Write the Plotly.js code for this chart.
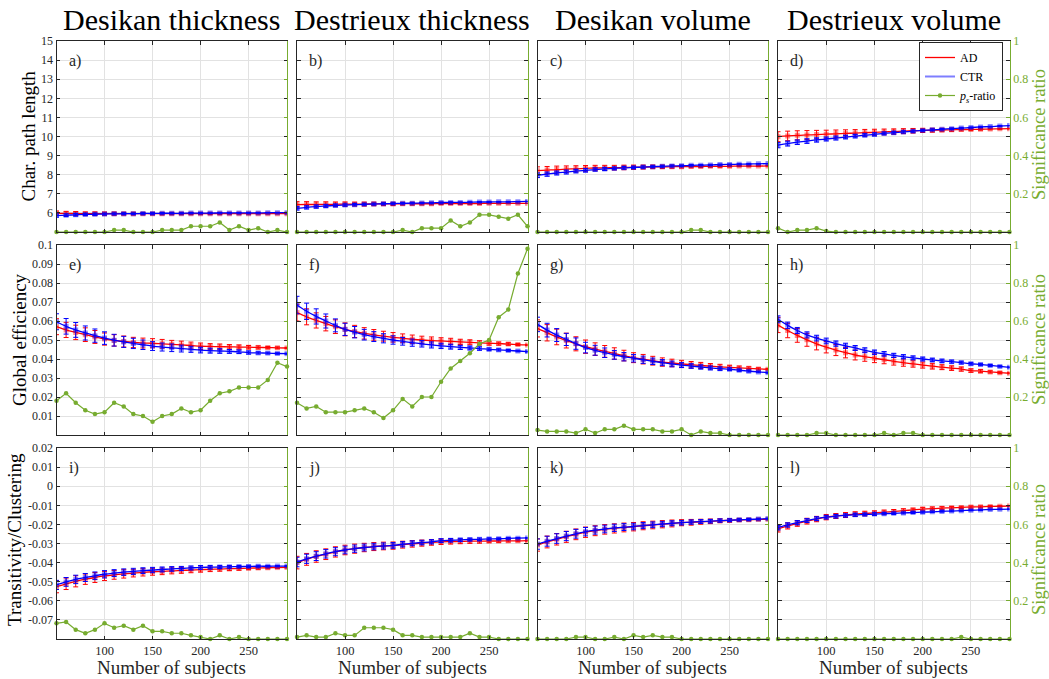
<!DOCTYPE html>
<html>
<head>
<meta charset="utf-8">
<script src="https://cdn.plot.ly/plotly-3.0.1.min.js"></script>
<style>html,body{margin:0;padding:0;background:#fff;}#chart{width:1049px;height:679px;}</style>
</head>
<body>
<div id="chart"></div>
<script>
// ---------- data ----------
const subjects = [50,60,70,80,90,100,110,120,130,140,150,160,170,180,190,200,210,220,230,240,250,260,270,280,290];

const columnTitles = ['Desikan thickness','Destrieux thickness','Desikan volume','Destrieux volume'];
const rowTitles = ['Char. path length','Global efficiency','Transitivity/Clustering'];
const panelLabels = ['a)','b)','c)','d)','e)','f)','g)','h)','i)','j)','k)','l)'];
const xTickVals = [100,150,200,250];
const xTickText = ['100','150','200','250'];
const row1TickVals = [6,7,8,9,10,11,12,13,14,15];
const row1TickText = ['6','7','8','9','10','11','12','13','14','15'];
const row2TickVals = [0.01,0.02,0.03,0.04,0.05,0.06,0.07,0.08,0.09,0.1];
const row2TickText = ['0.01','0.02','0.03','0.04','0.05','0.06','0.07','0.08','0.09','0.1'];
const row3TickVals = [-0.07,-0.06,-0.05,-0.04,-0.03,-0.02,-0.01,0,0.01,0.02];
const row3TickText = ['-0.07','-0.06','-0.05','-0.04','-0.03','-0.02','-0.01','0','0.01','0.02'];
const ratioTickVals = [0.2,0.4,0.6,0.8,1];
const ratioTickText = ['0.2','0.4','0.6','0.8','1'];
const row1Range = [5,15];
const row2Range = [0,0.1];
const row3Range = [-0.08,0.02];
const xRange = [50,290];

// a) Desikan thickness - char path length
const adA  = [5.98,5.97,5.97,5.96,5.96,5.96,5.96,5.96,5.96,5.96,5.96,5.96,5.96,5.96,5.96,5.96,5.96,5.96,5.96,5.96,5.96,5.96,5.96,5.96,5.96];
const ctrA = [5.86,5.88,5.9,5.92,5.93,5.94,5.95,5.96,5.96,5.97,5.97,5.98,5.98,5.98,5.99,5.99,5.99,6.0,6.0,6.0,6.0,6.0,6.01,6.01,6.01];
const errAdA  = [0.12,0.11,0.1,0.09,0.09,0.08,0.08,0.07,0.07,0.06,0.06,0.06,0.05,0.05,0.05,0.04,0.04,0.04,0.03,0.03,0.03,0.02,0.02,0.01,0.01];
const errCtrA = [0.08,0.07,0.07,0.06,0.06,0.05,0.05,0.05,0.04,0.04,0.04,0.04,0.03,0.03,0.03,0.03,0.02,0.02,0.02,0.02,0.02,0.01,0.01,0.01,0.01];
const ratioA = [0,0,0,0,0,0,0.01,0.01,0,0,0,0.01,0.01,0.01,0.03,0.03,0.03,0.05,0.01,0.03,0.01,0.02,0,0.01,0];

// b) Destrieux thickness - char path length
const adB  = [6.43,6.44,6.44,6.45,6.45,6.46,6.46,6.46,6.47,6.47,6.47,6.48,6.48,6.48,6.48,6.49,6.49,6.49,6.49,6.49,6.5,6.5,6.5,6.5,6.5];
const ctrB = [6.24,6.29,6.33,6.36,6.39,6.41,6.43,6.45,6.46,6.48,6.49,6.5,6.51,6.52,6.53,6.54,6.55,6.55,6.56,6.57,6.57,6.58,6.58,6.59,6.6];
const errAdB  = [0.16,0.15,0.14,0.13,0.12,0.11,0.1,0.1,0.09,0.08,0.08,0.07,0.07,0.06,0.06,0.05,0.05,0.04,0.04,0.04,0.03,0.03,0.02,0.02,0.01];
const errCtrB = [0.09,0.08,0.08,0.07,0.07,0.06,0.06,0.05,0.05,0.05,0.04,0.04,0.04,0.03,0.03,0.03,0.03,0.02,0.02,0.02,0.02,0.01,0.01,0.01,0.01];
const ratioB = [0,0,0,0,0,0,0,0,0,0,0,0.01,0,0.02,0.02,0.02,0.06,0.03,0.05,0.09,0.09,0.08,0.07,0.09,0.03];

// c) Desikan volume - char path length
const adC  = [8.21,8.24,8.27,8.29,8.31,8.33,8.35,8.36,8.37,8.38,8.39,8.4,8.41,8.41,8.42,8.42,8.43,8.43,8.44,8.44,8.44,8.45,8.45,8.45,8.46];
const ctrC = [7.97,8.03,8.09,8.14,8.19,8.23,8.27,8.3,8.33,8.36,8.38,8.4,8.42,8.44,8.46,8.47,8.49,8.5,8.51,8.53,8.54,8.55,8.56,8.57,8.58];
const errAdC  = [0.2,0.19,0.18,0.17,0.16,0.15,0.14,0.13,0.12,0.12,0.11,0.1,0.09,0.09,0.08,0.07,0.07,0.06,0.05,0.05,0.04,0.03,0.03,0.02,0.01];
const errCtrC = [0.12,0.11,0.1,0.1,0.09,0.09,0.08,0.08,0.07,0.07,0.06,0.06,0.05,0.05,0.05,0.04,0.04,0.03,0.03,0.03,0.02,0.02,0.02,0.01,0.01];
const ratioC = [0,0,0,0,0,0,0,0,0,0,0,0,0,0,0,0,0.01,0.01,0,0,0,0,0,0,0];

// d) Destrieux volume - char path length
const adD  = [9.99,10.03,10.06,10.08,10.1,10.12,10.14,10.16,10.18,10.2,10.22,10.24,10.26,10.28,10.3,10.32,10.33,10.34,10.35,10.36,10.37,10.38,10.39,10.4,10.41];
const ctrD = [9.55,9.63,9.7,9.76,9.82,9.87,9.92,9.97,10.02,10.07,10.11,10.16,10.2,10.24,10.28,10.32,10.35,10.38,10.41,10.44,10.47,10.5,10.52,10.55,10.57];
const errAdD  = [0.26,0.25,0.24,0.23,0.22,0.21,0.2,0.19,0.18,0.17,0.16,0.15,0.14,0.13,0.12,0.11,0.1,0.09,0.08,0.07,0.06,0.05,0.04,0.03,0.02];
const errCtrD = [0.14,0.13,0.12,0.12,0.11,0.1,0.1,0.09,0.09,0.08,0.08,0.07,0.07,0.06,0.06,0.05,0.05,0.04,0.04,0.04,0.03,0.03,0.02,0.02,0.01];
const ratioD = [0.02,0,0.01,0.01,0.02,0.005,0,0,0,0,0,0,0,0,0,0,0,0,0,0,0,0,0,0,0];

// e) Desikan thickness - global efficiency
const adE  = [0.057,0.0553,0.054,0.0528,0.0516,0.0505,0.0498,0.0492,0.0487,0.0484,0.0483,0.048,0.0477,0.0474,0.0471,0.0467,0.0466,0.0465,0.0464,0.0463,0.0462,0.0461,0.046,0.0459,0.0458];
const ctrE = [0.0596,0.0572,0.0553,0.0537,0.0523,0.051,0.0499,0.049,0.0482,0.0475,0.0468,0.0463,0.0459,0.0455,0.0451,0.0447,0.0444,0.0442,0.044,0.0438,0.0434,0.0432,0.0431,0.0429,0.0428];
const errAdE  = [0.0042,0.004,0.0038,0.0036,0.0034,0.0032,0.003,0.0029,0.0027,0.0026,0.0024,0.0023,0.0021,0.002,0.0018,0.0017,0.0015,0.0014,0.0012,0.0011,0.0009,0.0008,0.0006,0.0005,0.0003];
const errCtrE = [0.0042,0.0041,0.0039,0.0037,0.0035,0.0033,0.0031,0.0029,0.0027,0.0025,0.0023,0.0021,0.002,0.0018,0.0016,0.0015,0.0013,0.0012,0.001,0.0009,0.0008,0.0006,0.0005,0.0004,0.0003];
const ratioE = [0.18,0.22,0.17,0.13,0.11,0.12,0.17,0.15,0.11,0.1,0.07,0.1,0.11,0.14,0.12,0.13,0.18,0.22,0.23,0.25,0.25,0.25,0.29,0.38,0.36];

// f) Destrieux thickness - global efficiency
const adF  = [0.0644,0.0622,0.0603,0.0586,0.057,0.0556,0.0545,0.0535,0.0527,0.052,0.0514,0.0509,0.0504,0.05,0.0497,0.0495,0.0493,0.049,0.0488,0.0485,0.0483,0.0481,0.0479,0.0476,0.0474];
const ctrF = [0.0684,0.0651,0.0624,0.06,0.0577,0.0556,0.0541,0.0528,0.0518,0.0509,0.05,0.0493,0.0486,0.048,0.0474,0.0469,0.0465,0.0461,0.0458,0.0455,0.0451,0.0448,0.0445,0.0442,0.0439];
const errAdF  = [0.0044,0.0042,0.004,0.0038,0.0036,0.0034,0.0032,0.003,0.0028,0.0026,0.0025,0.0023,0.0022,0.002,0.0019,0.0017,0.0016,0.0014,0.0013,0.0011,0.001,0.0008,0.0007,0.0005,0.0003];
const errCtrF = [0.0046,0.0043,0.004,0.0037,0.0034,0.0032,0.003,0.0028,0.0026,0.0024,0.0022,0.002,0.0019,0.0017,0.0016,0.0014,0.0013,0.0011,0.001,0.0009,0.0007,0.0006,0.0005,0.0004,0.0003];
const ratioF = [0.17,0.14,0.15,0.12,0.12,0.12,0.13,0.14,0.12,0.09,0.13,0.19,0.15,0.2,0.2,0.28,0.35,0.39,0.43,0.48,0.5,0.62,0.66,0.85,0.98];

// g) Desikan volume - global efficiency
const adG  = [0.0561,0.0538,0.0516,0.0497,0.048,0.0465,0.0452,0.044,0.0429,0.0418,0.0407,0.0399,0.0391,0.0384,0.0379,0.0374,0.037,0.0366,0.0362,0.0359,0.0356,0.0353,0.0351,0.0348,0.0346];
const ctrG = [0.0582,0.0552,0.0526,0.0503,0.0481,0.046,0.0446,0.0433,0.0422,0.0412,0.0404,0.0396,0.0388,0.0381,0.0374,0.0368,0.0363,0.0358,0.0353,0.0349,0.0346,0.0341,0.0336,0.0332,0.0328];
const errAdG  = [0.0045,0.0043,0.0041,0.0039,0.0037,0.0035,0.0033,0.0031,0.003,0.0028,0.0026,0.0025,0.0023,0.0022,0.002,0.0019,0.0017,0.0016,0.0014,0.0013,0.0011,0.001,0.0008,0.0006,0.0004];
const errCtrG = [0.0038,0.0036,0.0034,0.0032,0.003,0.0028,0.0026,0.0025,0.0023,0.0022,0.002,0.0019,0.0017,0.0016,0.0015,0.0013,0.0012,0.0011,0.001,0.0009,0.0007,0.0006,0.0005,0.0004,0.0003];
const ratioG = [0.026,0.019,0.019,0.019,0.01,0.03,0.01,0.03,0.03,0.049,0.03,0.03,0.03,0.019,0.019,0.03,0,0.019,0.01,0.01,0,0,0,0,0];

// h) Destrieux volume - global efficiency
const adH  = [0.0579,0.055,0.0524,0.0501,0.048,0.0462,0.0447,0.0433,0.0421,0.0412,0.0404,0.0396,0.0388,0.0381,0.0374,0.0368,0.0362,0.0357,0.0352,0.0347,0.0339,0.0336,0.0332,0.0328,0.0325];
const ctrH = [0.0609,0.0577,0.055,0.0527,0.051,0.0495,0.0481,0.0469,0.0458,0.0446,0.0435,0.0427,0.0419,0.0412,0.0406,0.04,0.0395,0.039,0.0386,0.0381,0.0375,0.0371,0.0366,0.0361,0.0356];
const errAdH  = [0.004,0.0038,0.0036,0.0034,0.0032,0.003,0.0029,0.0027,0.0026,0.0024,0.0023,0.0021,0.002,0.0019,0.0017,0.0016,0.0015,0.0013,0.0012,0.0011,0.0009,0.0008,0.0006,0.0005,0.0003];
const errCtrH = [0.0018,0.0017,0.0016,0.0016,0.0015,0.0015,0.0014,0.0014,0.0013,0.0013,0.0012,0.0012,0.0011,0.0011,0.001,0.001,0.0009,0.0009,0.0008,0.0007,0.0007,0.0006,0.0005,0.0004,0.0003];
const ratioH = [0,0,0,0,0.01,0.01,0,0,0,0,0,0.01,0,0.01,0.01,0,0,0,0,0,0,0,0,0,0];

// i) Desikan thickness - transitivity
const adI  = [-0.0526,-0.0511,-0.0498,-0.0487,-0.0478,-0.047,-0.0464,-0.0459,-0.0455,-0.0451,-0.0448,-0.0446,-0.0443,-0.0441,-0.0439,-0.0437,-0.0435,-0.0434,-0.0432,-0.0431,-0.0429,-0.0428,-0.0427,-0.0426,-0.0425];
const ctrI = [-0.0517,-0.0501,-0.0488,-0.0478,-0.0469,-0.0461,-0.0455,-0.045,-0.0446,-0.0442,-0.0439,-0.0436,-0.0433,-0.0431,-0.0428,-0.0425,-0.0424,-0.0423,-0.0422,-0.0421,-0.042,-0.0419,-0.0419,-0.0418,-0.0418];
const errAdI  = [0.0032,0.003,0.0029,0.0027,0.0026,0.0024,0.0023,0.0022,0.002,0.0019,0.0018,0.0017,0.0016,0.0015,0.0014,0.0013,0.0012,0.0011,0.001,0.0009,0.0008,0.0007,0.0006,0.0004,0.0003];
const errCtrI = [0.0024,0.0023,0.0022,0.0021,0.002,0.0019,0.0018,0.0017,0.0016,0.0015,0.0014,0.0013,0.0012,0.0011,0.001,0.001,0.0009,0.0008,0.0007,0.0006,0.0006,0.0005,0.0004,0.0003,0.0002];
const ratioI = [0.082,0.089,0.049,0.03,0.049,0.082,0.059,0.07,0.049,0.07,0.04,0.04,0.03,0.03,0.019,0.01,0,0.019,0,0.01,0,0,0,0,0];

// j) Destrieux thickness - transitivity
const adJ  = [-0.04,-0.0383,-0.0368,-0.0356,-0.0344,-0.0334,-0.0327,-0.0321,-0.0316,-0.0313,-0.0311,-0.0306,-0.0302,-0.0298,-0.0294,-0.0291,-0.029,-0.0289,-0.0288,-0.0288,-0.0287,-0.0287,-0.0286,-0.0286,-0.0285];
const ctrJ = [-0.0397,-0.038,-0.0366,-0.0354,-0.0343,-0.0334,-0.0327,-0.0321,-0.0316,-0.0313,-0.031,-0.0304,-0.0299,-0.0295,-0.0291,-0.0285,-0.0283,-0.0281,-0.0279,-0.0278,-0.0276,-0.0275,-0.0273,-0.0272,-0.0271];
const errAdJ  = [0.0033,0.0031,0.003,0.0028,0.0027,0.0025,0.0024,0.0022,0.0021,0.002,0.0019,0.0018,0.0017,0.0016,0.0015,0.0014,0.0013,0.0012,0.0011,0.001,0.0009,0.0007,0.0006,0.0005,0.0003];
const errCtrJ = [0.0025,0.0024,0.0023,0.0022,0.0021,0.002,0.0019,0.0018,0.0017,0.0016,0.0015,0.0014,0.0013,0.0012,0.0011,0.001,0.0009,0.0008,0.0007,0.0007,0.0006,0.0005,0.0004,0.0003,0.0002];
const ratioJ = [0.01,0.019,0.01,0.01,0.03,0.019,0.019,0.059,0.059,0.059,0.049,0.019,0.019,0.01,0.01,0.01,0.01,0.01,0.03,0.01,0.01,0,0,0,0];

// k) Desikan volume - transitivity
const adK  = [-0.0308,-0.0292,-0.0278,-0.0265,-0.0252,-0.0241,-0.0233,-0.0226,-0.0221,-0.0216,-0.0212,-0.0207,-0.0203,-0.0199,-0.0195,-0.0191,-0.0189,-0.0186,-0.0184,-0.0181,-0.0179,-0.0177,-0.0176,-0.0174,-0.0173];
const ctrK = [-0.0303,-0.0288,-0.0274,-0.0261,-0.0249,-0.0238,-0.023,-0.0224,-0.0218,-0.0214,-0.0211,-0.0206,-0.0202,-0.0198,-0.0194,-0.0191,-0.0188,-0.0185,-0.0183,-0.018,-0.0178,-0.0176,-0.0174,-0.0172,-0.017];
const errAdK  = [0.0032,0.0031,0.003,0.0029,0.0028,0.0027,0.0026,0.0025,0.0024,0.0023,0.0022,0.0021,0.002,0.0019,0.0018,0.0016,0.0015,0.0013,0.0012,0.001,0.0009,0.0007,0.0006,0.0004,0.0003];
const errCtrK = [0.0027,0.0026,0.0025,0.0024,0.0023,0.0022,0.0021,0.002,0.0019,0.0018,0.0017,0.0016,0.0015,0.0014,0.0013,0.0012,0.0011,0.001,0.0009,0.0008,0.0007,0.0006,0.0005,0.0004,0.0003];
const ratioK = [0,0,0,0,0.01,0.01,0,0,0.01,0,0.019,0.01,0.019,0.01,0.01,0,0,0,0,0,0,0,0,0,0];

// l) Destrieux volume - transitivity
const adL  = [-0.0224,-0.0208,-0.0195,-0.0183,-0.0172,-0.0162,-0.0156,-0.0151,-0.0146,-0.0143,-0.014,-0.0136,-0.0132,-0.0128,-0.0124,-0.012,-0.0117,-0.0115,-0.0113,-0.0111,-0.0109,-0.0108,-0.0106,-0.0105,-0.0104];
const ctrL = [-0.0217,-0.0203,-0.0191,-0.018,-0.017,-0.0162,-0.0157,-0.0153,-0.015,-0.0148,-0.0146,-0.0144,-0.0142,-0.014,-0.0138,-0.0136,-0.0134,-0.0132,-0.013,-0.0128,-0.0126,-0.0124,-0.0122,-0.0121,-0.012];
const errAdL  = [0.0016,0.0016,0.0015,0.0015,0.0014,0.0014,0.0013,0.0013,0.0012,0.0012,0.0011,0.0011,0.001,0.001,0.0009,0.0009,0.0008,0.0008,0.0007,0.0006,0.0006,0.0005,0.0004,0.0003,0.0002];
const errCtrL = [0.0012,0.0011,0.0011,0.001,0.001,0.0009,0.0009,0.0008,0.0008,0.0007,0.0007,0.0006,0.0006,0.0005,0.0005,0.0005,0.0004,0.0004,0.0004,0.0003,0.0003,0.0003,0.0002,0.0002,0.0001];
const ratioL = [0,0,0,0,0,0,0,0,0,0,0,0,0,0,0,0,0,0,0,0.01,0,0,0,0,0];

const panels = [
  {ad:adA,ctr:ctrA,eAd:errAdA,eCtr:errCtrA,ratio:ratioA},
  {ad:adB,ctr:ctrB,eAd:errAdB,eCtr:errCtrB,ratio:ratioB},
  {ad:adC,ctr:ctrC,eAd:errAdC,eCtr:errCtrC,ratio:ratioC},
  {ad:adD,ctr:ctrD,eAd:errAdD,eCtr:errCtrD,ratio:ratioD},
  {ad:adE,ctr:ctrE,eAd:errAdE,eCtr:errCtrE,ratio:ratioE},
  {ad:adF,ctr:ctrF,eAd:errAdF,eCtr:errCtrF,ratio:ratioF},
  {ad:adG,ctr:ctrG,eAd:errAdG,eCtr:errCtrG,ratio:ratioG},
  {ad:adH,ctr:ctrH,eAd:errAdH,eCtr:errCtrH,ratio:ratioH},
  {ad:adI,ctr:ctrI,eAd:errAdI,eCtr:errCtrI,ratio:ratioI},
  {ad:adJ,ctr:ctrJ,eAd:errAdJ,eCtr:errCtrJ,ratio:ratioJ},
  {ad:adK,ctr:ctrK,eAd:errAdK,eCtr:errCtrK,ratio:ratioK},
  {ad:adL,ctr:ctrL,eAd:errAdL,eCtr:errCtrL,ratio:ratioL}
];
const rowRanges = [row1Range,row2Range,row3Range];
const rowTickVals = [row1TickVals,row2TickVals,row3TickVals];
const rowTickText = [row1TickText,row2TickText,row3TickText];

// ---------- layout geometry (pixels) ----------
const W = 1049, H = 679;
const colPx = [[56.5,287],[297,527.5],[537.5,768],[778,1009.5]];
const rowPx = [[41,232],[245,435],[448,639]];
const FONT = 'Liberation Serif';
const GREEN = '#77AC30';
const AXC = '#262626';
const GRID = '#e2e2e2';
const px = p => p / W;
const py = p => 1 - p / H;

const traces = [];
const layout = {
  width: W, height: H,
  margin: {l:0, r:0, t:0, b:0},
  paper_bgcolor: '#fff', plot_bgcolor: '#fff',
  font: {family: FONT, color: AXC, size: 11},
  showlegend: true,
  legend: {
    x: px(1003), y: py(42), xanchor: 'right', yanchor: 'top',
    bgcolor: '#fff', bordercolor: AXC, borderwidth: 1,
    font: {family: FONT, size: 12, color: '#000'},
    itemwidth: 30, tracegroupgap: 0
  },
  annotations: [],
  shapes: []
};

panels.forEach((p, k) => {
  const r = Math.floor(k / 4), c = k % 4;
  const n = k + 1;
  const xk = n === 1 ? 'xaxis' : 'xaxis' + n;
  const yk = n === 1 ? 'yaxis' : 'yaxis' + n;
  const y2k = 'yaxis' + (n + 12);
  const xr = n === 1 ? 'x' : 'x' + n;
  const yr = n === 1 ? 'y' : 'y' + n;
  const y2r = 'y' + (n + 12);

  layout[xk] = {
    domain: [px(colPx[c][0]), px(colPx[c][1])],
    anchor: yr, range: xRange,
    tickvals: xTickVals, ticktext: xTickText,
    showticklabels: r === 2,
    tickfont: {family: FONT, size: 12.5, color: AXC},
    ticks: 'inside', ticklen: 3.5, tickcolor: AXC, tickwidth: 1,
    showline: true, linecolor: AXC, linewidth: 1, mirror: 'ticks',
    showgrid: true, gridcolor: GRID, gridwidth: 1, zeroline: false,
    fixedrange: true
  };
  layout[yk] = {
    domain: [py(rowPx[r][1]), py(rowPx[r][0])],
    anchor: xr, range: rowRanges[r],
    tickvals: rowTickVals[r], ticktext: rowTickText[r],
    showticklabels: c === 0,
    tickfont: {family: FONT, size: 12, color: AXC},
    ticks: 'inside', ticklen: 3.5, tickcolor: AXC, tickwidth: 1,
    showline: true, linecolor: AXC, linewidth: 1, mirror: 'ticks',
    showgrid: true, gridcolor: GRID, gridwidth: 1, zeroline: false,
    fixedrange: true
  };
  layout[y2k] = {
    overlaying: yr, side: 'right', anchor: xr, range: [0, 1],
    tickvals: ratioTickVals, ticktext: ratioTickText,
    showticklabels: c === 3,
    tickfont: {family: FONT, size: 12, color: GREEN},
    ticks: 'inside', ticklen: 3.5, tickcolor: GREEN, tickwidth: 1,
    showline: true, linecolor: GREEN, linewidth: 1.3,
    showgrid: false, zeroline: false, fixedrange: true
  };

  traces.push({
    type: 'scatter', mode: 'lines+markers', x: subjects, y: p.ad,
    xaxis: xr, yaxis: yr, showlegend: false, name: 'AD',
    line: {color: '#ff0000', width: 1.3, shape: 'spline'},
    marker: {symbol: 'square', size: 5, color: 'rgba(255,0,0,0.45)'},
    error_y: {type: 'data', array: p.eAd, visible: true, color: '#ff0000', thickness: 1, width: 2.5}
  });
  traces.push({
    type: 'scatter', mode: 'lines+markers', x: subjects, y: p.ctr,
    xaxis: xr, yaxis: yr, showlegend: false, name: 'CTR',
    line: {color: '#0000ff', width: 1.3, shape: 'spline'},
    marker: {symbol: 'square', size: 5, color: 'rgba(0,0,255,0.45)'},
    error_y: {type: 'data', array: p.eCtr, visible: true, color: '#0000ff', thickness: 1, width: 2.5}
  });
  traces.push({
    type: 'scatter', mode: 'lines+markers', x: subjects, y: p.ratio,
    xaxis: xr, yaxis: y2r, showlegend: false, name: 'ratio', cliponaxis: false,
    line: {color: GREEN, width: 1.2},
    marker: {symbol: 'circle', size: 4.5, color: GREEN}
  });

  layout.annotations.push({
    xref: 'paper', yref: 'paper', x: px(colPx[c][0] + 10), y: py(rowPx[r][0] + 20),
    xanchor: 'left', yanchor: 'middle', showarrow: false,
    text: panelLabels[k], font: {family: FONT, size: 16, color: '#262626'}
  });
});

// legend-only entries
traces.push({type:'scatter', mode:'lines', x:[null], y:[null], xaxis:'x4', yaxis:'y4', name:'AD',
  line:{color:'#ff0000', width:1.3}, showlegend:true});
traces.push({type:'scatter', mode:'lines', x:[null], y:[null], xaxis:'x4', yaxis:'y4', name:'CTR',
  line:{color:'rgba(40,40,255,0.6)', width:2}, showlegend:true});
traces.push({type:'scatter', mode:'lines+markers', x:[null], y:[null], xaxis:'x4', yaxis:'y16',
  name:'<i>p</i><sub><i>s</i></sub>-ratio',
  line:{color:GREEN, width:1.2}, marker:{size:4.5, color:GREEN}, showlegend:true});

// column titles and x-axis titles
columnTitles.forEach((t, c) => {
  layout.annotations.push({
    xref:'paper', yref:'paper', x: px((colPx[c][0] + colPx[c][1]) / 2), y: py(19),
    xanchor:'center', yanchor:'middle', showarrow:false, text:t,
    font:{family:FONT, size:30, color:'#000'}
  });
  layout.annotations.push({
    xref:'paper', yref:'paper', x: px((colPx[c][0] + colPx[c][1]) / 2), y: py(667),
    xanchor:'center', yanchor:'middle', showarrow:false, text:'Number of subjects',
    font:{family:FONT, size:19, color:'#262626'}
  });
});

// row (y-axis) titles
const rowTitleX = [28, 19, 14];
const rowTitleY = [136.5, 340, 540];
const sigTitleY = [135, 340, 550];
rowTitles.forEach((t, r) => {
  layout.annotations.push({
    xref:'paper', yref:'paper', x: px(rowTitleX[r]), y: py(rowTitleY[r]),
    xanchor:'center', yanchor:'middle', showarrow:false, text:t, textangle:-90,
    font:{family:FONT, size:19, color:'#000'}
  });
  layout.annotations.push({
    xref:'paper', yref:'paper', x: px(1039), y: py(sigTitleY[r]),
    xanchor:'center', yanchor:'middle', showarrow:false, text:'Significance ratio', textangle:-90,
    font:{family:FONT, size:18.5, color:GREEN}
  });
});

Plotly.newPlot('chart', traces, layout, {displayModeBar:false, staticPlot:true});
</script>
</body>
</html>
